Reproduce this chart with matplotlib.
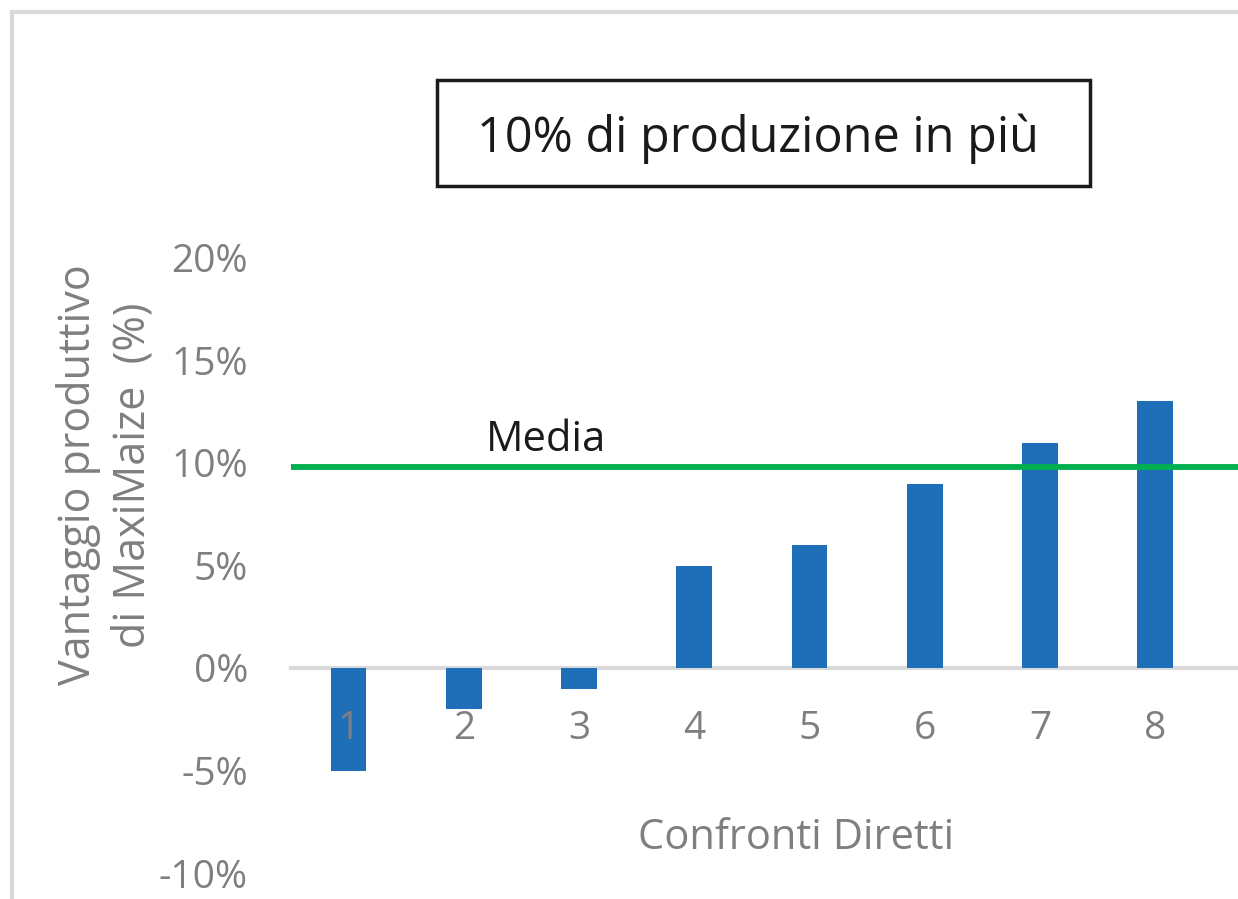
import matplotlib.pyplot as plt
from matplotlib.patches import Rectangle

# data
categories = ["1", "2", "3", "4", "5", "6", "7", "8"]
vantaggio = [-5, -2, -1, 5, 6, 9, 11, 13]
media = 9.8
y_ticks = [-10, -5, 0, 5, 10, 15, 20]

plt.rcParams['font.family'] = ['Open Sans', 'DejaVu Sans']
gray = "#7f7f7f"
W, H = 1238, 899

fig = plt.figure(figsize=(W / 100, H / 100), dpi=100, facecolor="white")

# light gray frame (top + left visible, rest cut off)
fig.add_artist(Rectangle((12 / W, -0.1), 2.0, 1 - 12 / H + 0.1, transform=fig.transFigure,
                         fill=False, edgecolor="#d9d9d9", linewidth=3))

ax = fig.add_axes([291 / W, 1 - 873 / H, 1 - 291 / W + 0.001, (873 - 258) / H])
x = list(range(1, len(categories) + 1))
ax.bar(x, vantaggio, width=0.31, color="#1f6fb8", zorder=2)
ax.axhline(media, color="#00b050", linewidth=4.2, zorder=3)

ax.set_xlim(0.5, 8.73)
ax.set_ylim(-10, 20)
ax.set_yticks(y_ticks)
ax.set_yticklabels([f"{t}%" for t in y_ticks])
ax.set_xticks(x)
ax.set_xticklabels(categories)
ax.set_axisbelow(False)

for s in ["top", "right", "left"]:
    ax.spines[s].set_visible(False)
ax.spines["bottom"].set_position(("data", 0))
ax.spines["bottom"].set_color("#d9d9d9")
ax.spines["bottom"].set_linewidth(3)
ax.spines["bottom"].set_zorder(1)
ax.tick_params(axis="both", length=0, labelsize=28, labelcolor=gray)
ax.tick_params(axis="y", pad=31)
ax.tick_params(axis="x", pad=30)

ax.text(2.19, 10.1, "Media", fontsize=30, color="#1a1a1a", va="bottom", ha="left")
ax.text(4.88, -8.3, "Confronti Diretti", fontsize=30, color=gray, ha="center", va="center")

fig.text(106 / W, 1 - 475 / H, "Vantaggio produttivo\ndi MaxiMaize  (%)", rotation=90,
         fontsize=31, color=gray, ha="center", va="center", multialignment="center",
         linespacing=1.3)

# title box
fig.add_artist(Rectangle((437 / W, 1 - 186 / H), (1090 - 437) / W, (186 - 80) / H,
                         transform=fig.transFigure, fill=False, edgecolor="#1a1a1a", linewidth=2.5))
fig.text(758 / W, 1 - 139 / H, "10% di produzione in più", fontsize=35, color="#1a1a1a",
         ha="center", va="center")

fig.savefig("out.png", dpi=100)
